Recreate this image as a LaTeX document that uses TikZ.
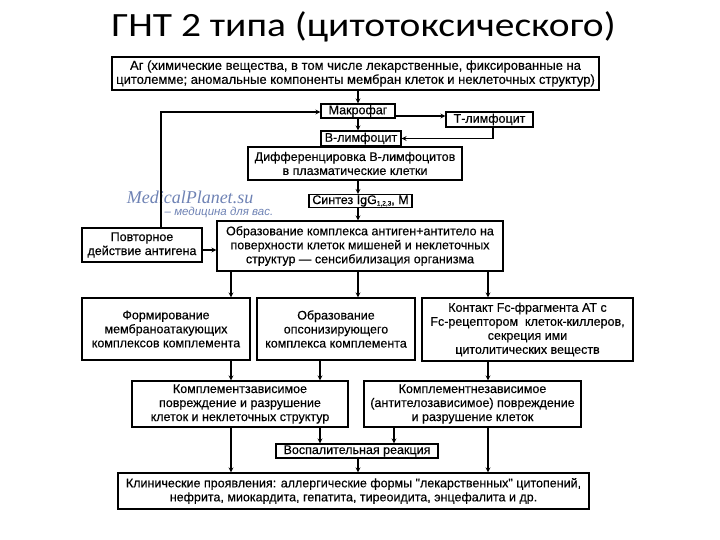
\documentclass[tikz,border=0pt]{standalone}
\usepackage{fontspec}
\setmainfont{Liberation Sans}
\newfontfamily\boxfam{Liberation Sans}[FakeBold=0.35]
\newfontfamily\titlefont{Carlito}
\newfontfamily\wmfont{Liberation Serif}
\usepackage{xcolor}
\definecolor{wmblue}{RGB}{110,130,180}
\newcommand{\boxfont}{\boxfam\fontsize{12.5}{14}\selectfont}
\newcommand{\subidx}[1]{\raisebox{-1.5pt}{\fontsize{6.5}{7}\selectfont #1}}

\begin{document}
\begin{tikzpicture}[x=1pt,y=-1pt,->,>=stealth,line width=1.2pt,
    box/.style={draw,align=center,inner sep=0pt,font=\boxfont},
    wm/.style={text=wmblue,inner sep=0pt}]
    \useasboundingbox (0,0) rectangle (720,540);

    \node[inner sep=0pt,font=\titlefont\fontsize{34}{36}\selectfont] (title) at (363.5,27) {\scalebox{1.16}[1]{ГНТ 2 типа (цитотоксического)}};

    \node[box,font=\boxfam\fontsize{13}{14}\selectfont,minimum width=487pt,minimum height=33pt] (ag) at (355.5,73.5) {Аг (химические вещества, в том числе лекарственные, фиксированные на\\цитолемме; аномальные компоненты мембран клеток и неклеточных структур)};
    \node[box,minimum width=74pt,minimum height=14pt] (makro) at (358,111) {Макрофаг};
    \node[box,minimum width=87pt,minimum height=15pt] (tlimf) at (489.5,119.5) {Т-лимфоцит};
    \node[box,minimum width=80pt,minimum height=15pt] (blimf) at (361,138.5) {В-лимфоцит};
    \node[box,minimum width=214pt,minimum height=33pt] (diff) at (355,163.5) {Дифференцировка В-лимфоцитов\\в плазматические клетки};
    \node[box,minimum width=103pt,minimum height=13pt] (sintez) at (360.5,201) {Синтез IgG\subidx{1,2,3}, M};
    \node[box,minimum width=286pt,minimum height=50pt] (obraz) at (360,246) {Образование комплекса антиген+антитело на\\поверхности клеток мишеней и неклеточных\\структур — сенсибилизация организма};
    \node[box,minimum width=120pt,minimum height=34pt] (povt) at (142,245) {Повторное\\действие антигена};

    \node[box,minimum width=168pt,minimum height=62pt] (form) at (166,329) {Формирование\\мембраноатакующих\\комплексов комплемента};
    \node[box,minimum width=158pt,minimum height=62pt] (opson) at (336,329) {Образование\\опсонизирующего\\комплекса комплемента};
    \node[box,minimum width=211pt,minimum height=63pt] (kontakt) at (527.5,329.5) {Контакт Fc-фрагмента АТ с\\Fc-рецептором\ \ клеток-киллеров,\\секреция ими\\цитолитических веществ};

    \node[box,minimum width=216pt,minimum height=46pt] (kzav) at (240,404) {Комплементзависимое\\повреждение и разрушение\\клеток и неклеточных структур};
    \node[box,minimum width=217pt,minimum height=46pt] (knezav) at (472.5,404) {Комплементнезависимое\\(антителозависимое) повреждение\\и разрушение клеток};
    \node[box,minimum width=162pt,minimum height=14pt] (vosp) at (357,451) {Воспалительная реакция};
    \node[box,minimum width=471pt,minimum height=36pt] (klin) at (353.5,491) {Клинические проявления: аллергические формы "лекарственных" цитопений,\\нефрита, миокардита, гепатита, тиреоидита, энцефалита и др.};

    % watermark of the scan
    \node[wm,font=\wmfont\itshape\fontsize{18}{20}\selectfont] (wmark) at (190,197) {MedicalPlanet.su};
    \node[wm,font=\itshape\fontsize{11.5}{12}\selectfont] (wmsub) at (219,212) {– медицина для вас.};

    % columns of the vertical arrows
    \coordinate (cA) at (231,0);
    \coordinate (cB) at (320,0);
    \coordinate (cC) at (358,0);
    \coordinate (cD) at (394,0);
    \coordinate (cE) at (488,0);

    \path
        (ag.south -| cC) edge (makro.north -| cC)
        (makro.south -| cC) edge (blimf.north -| cC)
        (diff.south -| cC) edge (sintez.north -| cC)
        (sintez.south -| cC) edge (obraz.north -| cC)
        (obraz.south -| cA) edge (form.north -| cA)
        (obraz.south -| cC) edge (opson.north -| cC)
        (obraz.south -| cE) edge (kontakt.north -| cE)
        (form.south -| cA) edge (kzav.north -| cA)
        (opson.south -| cB) edge (kzav.north -| cB)
        (kontakt.south -| cE) edge (knezav.north -| cE)
        (kzav.south -| cA) edge (klin.north -| cA)
        (kzav.south -| cB) edge (vosp.north -| cB)
        (knezav.south -| cD) edge (vosp.north -| cD)
        (knezav.south -| cE) edge (klin.north -| cE)
        (vosp.south -| cC) edge (klin.north -| cC)
        ;
    \draw ([yshift=-5pt]makro.east) -- ([yshift=-5pt]makro.east -| tlimf.west);
    \draw ([xshift=3.5pt]tlimf.south) |- (blimf.east);
    \draw ([xshift=19pt]povt.north) |- ([yshift=-1pt]makro.west);
    \draw ([yshift=-5pt]povt.east) -- ([yshift=-5pt]povt.east -| obraz.west);
\end{tikzpicture}
\end{document}
